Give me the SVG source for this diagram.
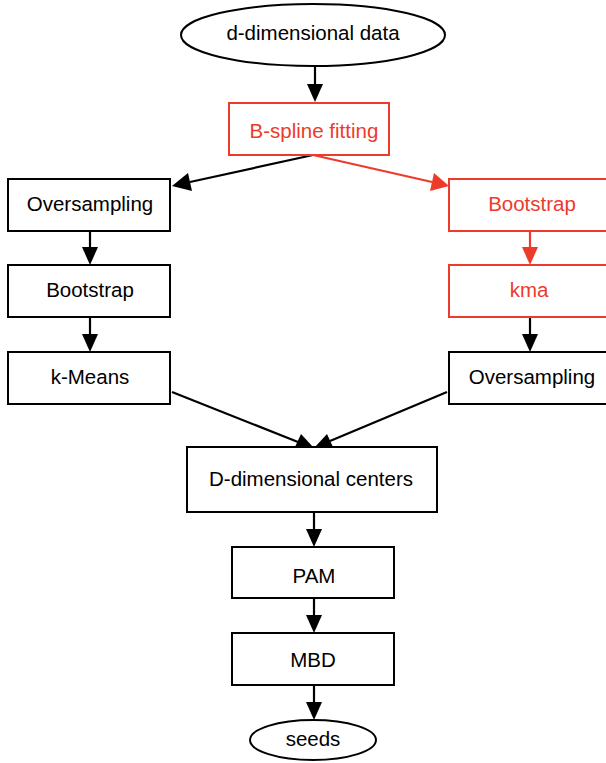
<svg xmlns="http://www.w3.org/2000/svg" width="606" height="763" viewBox="0 0 606 763">
<style>
.n{fill:#fff;stroke:#000;stroke-width:2}
.r{fill:#fff;stroke:#ee3a2a;stroke-width:2}
.t{font-family:"Liberation Sans",Arial,sans-serif;font-size:20.5px;text-anchor:middle;fill:#000}
.tr{font-family:"Liberation Sans",Arial,sans-serif;font-size:20.5px;text-anchor:middle;fill:#ee3a2a}
.e{fill:none;stroke:#000;stroke-width:2.2}
.er{fill:none;stroke:#ee3a2a;stroke-width:2.2}
</style>
<rect width="606" height="763" fill="#fff"/>
<g id="edges">
<line class="e" x1="315" y1="67" x2="315" y2="85"/><path d="M307,84 L323,84 L315,102 z"/>
<line class="e" x1="313" y1="155" x2="190" y2="182"/><path d="M172,186 L188,173 L192,191 z"/>
<line class="er" x1="313" y1="155" x2="432" y2="182"/><path d="M449,186 L430,191 L434,173 z" fill="#ee3a2a"/>
<line class="e" x1="90" y1="231" x2="90" y2="248"/><path d="M82,247 L98,247 L90,265 z"/>
<line class="e" x1="90" y1="317" x2="90" y2="335"/><path d="M82,334 L98,334 L90,352 z"/>
<line class="er" x1="530" y1="231" x2="530" y2="248"/><path d="M522,247 L538,247 L530,265 z" fill="#ee3a2a"/>
<line class="e" x1="530" y1="317" x2="530" y2="335"/><path d="M522,334 L538,334 L530,352 z"/>
<line class="e" x1="172" y1="392" x2="298" y2="442"/><path d="M313,447 L295,447 L301,434 z"/>
<line class="e" x1="447" y1="392" x2="330" y2="441"/><path d="M315,447 L327,434 L333,447 z"/>
<line class="e" x1="314" y1="512" x2="314" y2="530"/><path d="M306,529 L322,529 L314,547 z"/>
<line class="e" x1="314" y1="598" x2="314" y2="616"/><path d="M306,615 L322,615 L314,633 z"/>
<line class="e" x1="314" y1="685" x2="314" y2="703"/><path d="M306,702 L322,702 L314,720 z"/>
</g>
<g id="data"><ellipse class="n" cx="313" cy="35" rx="132" ry="31"/><text class="t" x="313" y="40">d-dimensional data</text></g>
<g id="bspline"><rect class="r" x="229" y="103" width="160" height="52"/><text class="tr" x="314" y="138">B-spline fitting</text></g>
<g id="overL"><rect class="n" x="8" y="179" width="162" height="52"/><text class="t" x="90" y="211">Oversampling</text></g>
<g id="bootL"><rect class="n" x="8" y="265" width="162" height="52"/><text class="t" x="90" y="297">Bootstrap</text></g>
<g id="kmeans"><rect class="n" x="8" y="352" width="162" height="52"/><text class="t" x="90" y="384">k-Means</text></g>
<g id="bootR"><rect class="r" x="449" y="179" width="162" height="52"/><text class="tr" x="532" y="211">Bootstrap</text></g>
<g id="kma"><rect class="r" x="449" y="265" width="162" height="52"/><text class="tr" x="529" y="297">kma</text></g>
<g id="overR"><rect class="n" x="449" y="352" width="162" height="52"/><text class="t" x="532" y="384">Oversampling</text></g>
<g id="centers"><rect class="n" x="187" y="447" width="250" height="65"/><text class="t" x="311" y="486">D-dimensional centers</text></g>
<g id="pam"><rect class="n" x="232" y="547" width="162" height="51"/><text class="t" x="314" y="583">PAM</text></g>
<g id="mbd"><rect class="n" x="232" y="633" width="162" height="52"/><text class="t" x="313" y="667">MBD</text></g>
<g id="seeds"><ellipse class="n" cx="313" cy="740" rx="63" ry="20"/><text class="t" x="313" y="746">seeds</text></g>
</svg>
